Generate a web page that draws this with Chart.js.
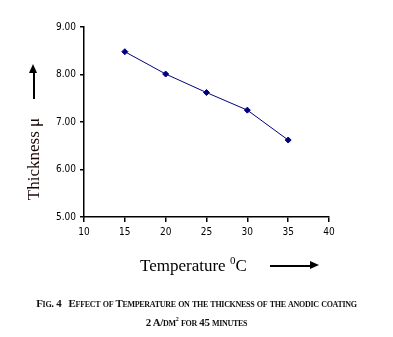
<!DOCTYPE html>
<html>
<head>
<meta charset="utf-8">
<script src="https://cdn.jsdelivr.net/npm/chart.js@4/dist/chart.umd.min.js"></script>
<style>
  body { margin: 0; background: #fff; }
  #wrap { position: relative; width: 393px; height: 337px; }
  #chart { position: absolute; left: 0; top: 0; }
  .ytitle {
    position: absolute; left: 34px; top: 159px;
    transform: translate(-50%, -50%) rotate(-90deg);
    font: 17px 'Liberation Serif', 'Times New Roman', serif;
    color: #1a0505; white-space: nowrap;
  }
  .xtitle {
    position: absolute; left: 140px; top: 254px;
    font: 17px 'Liberation Serif', 'Times New Roman', serif;
    color: #000; white-space: nowrap;
  }
  .xtitle sup { font-size: 11px; vertical-align: 7px; }
  .arrow-up { position: absolute; left: 33px; top: 72px; width: 1.5px; height: 27px; background: #000; }
  .arrow-up::before {
    content: ''; position: absolute; left: -4px; top: -8px;
    border-left: 4.75px solid transparent; border-right: 4.75px solid transparent;
    border-bottom: 9px solid #000;
  }
  .arrow-right { position: absolute; left: 270px; top: 265px; width: 40px; height: 1.5px; background: #000; }
  .arrow-right::after {
    content: ''; position: absolute; right: -9px; top: -4px;
    border-top: 4.75px solid transparent; border-bottom: 4.75px solid transparent;
    border-left: 9px solid #000;
  }
  .caption {
    position: absolute; left: 0; width: 393px; text-align: center;
    font: bold 10.9px 'Liberation Serif', 'Times New Roman', serif;
    font-variant: small-caps; color: #111; white-space: nowrap;
    letter-spacing: -0.3px;
  }
  .caption sup { font-size: 6px; vertical-align: 5px; }
</style>
</head>
<body>
<div id="wrap">
  <canvas id="chart" width="393" height="337"></canvas>
  <div class="arrow-up"></div>
  <div class="ytitle">Thickness μ</div>
  <div class="xtitle">Temperature <sup>0</sup>C</div>
  <div class="arrow-right"></div>
  <div class="caption" style="top:297px">Fig. 4&nbsp;&nbsp; Effect of Temperature on the thickness of the anodic coating</div>
  <div class="caption" style="top:316px">2 A/dm<sup>2</sup> for 45 minutes</div>
</div>
<script>
const temperatures = [15, 20, 25, 30, 35]
const thickness = [8.48, 8.01, 7.62, 7.25, 6.62]
const xTicks = [10, 15, 20, 25, 30, 35, 40]
const yTicks = [5, 6, 7, 8, 9]

const tickFont = { family: "'Liberation Sans Narrow', 'DejaVu Sans Condensed', Arial, sans-serif", size: 10 }

const ChartGraph = {
  chart: '',
  create(){
    const ctx = document.getElementById('chart')
    ChartGraph.chart = new Chart(ctx, {
      type: 'scatter',
      data: {
        datasets: [{
          data: temperatures.map((t, i) => ({ x: t, y: thickness[i] })),
          showLine: true,
          borderColor: '#000080',
          backgroundColor: '#000080',
          borderWidth: 1,
          pointStyle: 'rectRot',
          pointRadius: 3,
          pointBorderWidth: 1
        }]
      },
      options: {
        responsive: false,
        animation: false,
        layout: { padding: { left: 0, top: 27, right: 64, bottom: 0 } },
        plugins: { legend: { display: false }, tooltip: { enabled: false } },
        scales: {
          x: {
            type: 'linear',
            min: xTicks[0], max: xTicks[xTicks.length - 1],
            afterBuildTicks(scale){ scale.ticks = xTicks.map(v => ({ value: v })) },
            afterFit(scale){ scale.height = 120 },
            border: { color: '#000', width: 1.5 },
            grid: { drawOnChartArea: false, color: '#000', tickLength: 5, lineWidth: 1.5 },
            ticks: { color: '#000', font: tickFont, padding: 4, maxRotation: 0 }
          },
          y: {
            min: yTicks[0], max: yTicks[yTicks.length - 1],
            afterBuildTicks(scale){ scale.ticks = yTicks.map(v => ({ value: v })) },
            afterFit(scale){ scale.width = 84 },
            border: { color: '#000', width: 1.5 },
            grid: { drawOnChartArea: false, color: '#000', tickLength: 4, lineWidth: 1.5 },
            ticks: { color: '#000', font: tickFont, padding: 4, callback: v => Number(v).toFixed(2) }
          }
        }
      }
    })
  }
}

ChartGraph.create()
</script>
</body>
</html>
